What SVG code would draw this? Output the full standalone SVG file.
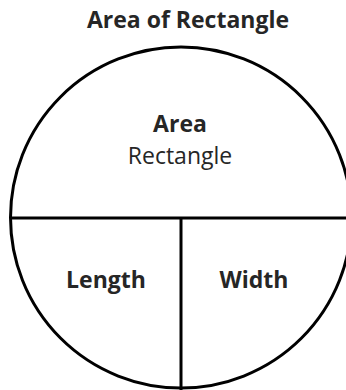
<svg xmlns="http://www.w3.org/2000/svg" width="346" height="390" viewBox="0 0 346 390">
<style>
text{font-family:"Open Sans","Noto Sans",sans-serif;fill:#262626;text-anchor:middle;font-size:23px}
.b{font-weight:bold}
.ln{stroke:#000;stroke-width:3;fill:none}
</style>
<rect width="346" height="390" fill="#fff"/>
<text class="b" x="188" y="28">Area of Rectangle</text>
<g id="circle"><circle class="ln" cx="181" cy="217.5" r="170.5"/></g>
<g id="connectors">
<line class="ln" x1="10" y1="218" x2="346" y2="218"/>
<line class="ln" x1="181" y1="218" x2="181" y2="390"/>
</g>
<g id="area"><text class="b" x="180" y="132">Area</text><text x="180" y="164">Rectangle</text></g>
<g id="length"><text class="b" x="106" y="288">Length</text></g>
<g id="width"><text class="b" x="254" y="288">Width</text></g>
</svg>
